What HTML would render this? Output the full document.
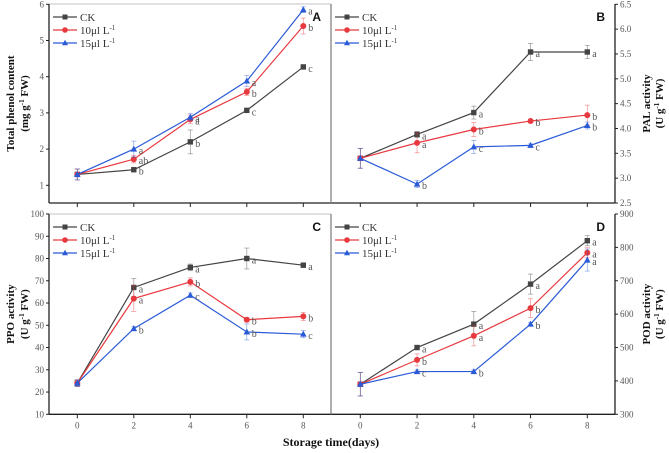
<!DOCTYPE html>
<html><head><meta charset="utf-8"><style>
body{margin:0;background:#fff}
svg{display:block;font-family:"Liberation Serif",serif}
</style></head><body>
<svg id="c" width="669" height="453" viewBox="0 0 669 453" xmlns="http://www.w3.org/2000/svg"></svg>
<script>
const days=[0,2,4,6,8];
const seriesNames=["CK","10μl L","15μl L"];
const aCK=[1.3,1.43,2.2,3.07,4.27], a10=[1.3,1.72,2.82,3.58,5.4], a15=[1.3,2.0,2.88,3.88,5.85];
const aErrCK=[0.15,0.05,0.33,0.05,0.05], aErr10=[0.15,0.1,0.12,0.1,0.22], aErr15=[0.15,0.22,0.1,0.15,0.08];
const aLetCK=["","b","b","c","c"], aLet10=["","ab","a","b","b"], aLet15=["","a","a","a","a"];
const bCK=[3.4,3.88,4.32,5.54,5.54], b10=[3.4,3.71,3.98,4.15,4.27], b15=[3.4,2.88,3.63,3.66,4.06];
const bErrCK=[0.2,0.06,0.13,0.17,0.13], bErr10=[0.2,0.2,0.14,0.03,0.2], bErr15=[0.2,0.07,0.13,0.03,0.07];
const bLetCK=["","a","a","a","a"], bLet10=["","a","b","b","b"], bLet15=["","b","c","c","b"];
const cCK=[24,67,76,80,77], c10=[24,62,69.5,52.5,54], c15=[24,48.5,63.5,47,46];
const cErrCK=[1.5,4,1.5,4.7,1], cErr10=[1.5,5.8,1.8,1,1.8], cErr15=[1.5,1,1,3.6,1.6];
const cLetCK=["","a","a","a","a"], cLet10=["","a","b","b","b"], cLet15=["","b","c","b","c"];
const dCK=[390,500,570,690,820], d10=[390,463,535,618,784], d15=[390,428,428,570,762];
const dErrCK=[35,5,38,30,15], dErr10=[35,18,30,28,15], dErr15=[35,5,5,5,33];
const dLetCK=["","a","a","a","a"], dLet10=["","b","a","b","a"], dLet15=["","c","b","b","a"];
const aTicks=[1,2,3,4,5,6], bTicks=["2.5","3.0","3.5","4.0","4.5","5.0","5.5","6.0","6.5"];
const cTicks=[10,20,30,40,50,60,70,80,90,100], dTicks=[300,400,500,600,700,800,900];
const colors=["#444","#e8393f","#2a5bd7"];
const NS="http://www.w3.org/2000/svg";
const svg=document.getElementById("c");
function mk(t,a,p){const e=document.createElementNS(NS,t);for(const k in a)e.setAttribute(k,a[k]);(p||svg).appendChild(e);return e;}
function line(x1,y1,x2,y2,s,w,p){return mk("line",{x1,y1,x2,y2,stroke:s,"stroke-width":w||1},p);}
function txt(x,y,s,a,p){const e=mk("text",Object.assign({x,y},a),p);e.textContent=s;return e;}

const panels=[
 {id:"A",x0:77.3,x1:303.3,top:4,bot:203,ticks:aTicks,right:false,L:49,R:331,ser:[aCK,a10,a15],err:[aErrCK,aErr10,aErr15],let:[aLetCK,aLet10,aLet15],t1:"Total phenol content",t2:"(mg g",u:" FW)",xl:false,tv0:1,tvy0:185.3,tv1:6,tvy1:4.3},
 {id:"B",x0:360.3,x1:587.3,top:4,bot:203,ticks:bTicks,right:true,L:331,R:615,ser:[bCK,b10,b15],err:[bErrCK,bErr10,bErr15],let:[bLetCK,bLet10,bLet15],t1:"PAL activity",t2:"(U g",u:" FW)",xl:false,tv0:2.5,tvy0:203,tv1:6.5,tvy1:4.3},
 {id:"C",x0:77.3,x1:303.3,top:214,bot:414.3,ticks:cTicks,right:false,L:49,R:331,ser:[cCK,c10,c15],err:[cErrCK,cErr10,cErr15],let:[cLetCK,cLet10,cLet15],t1:"PPO activity",t2:"(U g",u:" FW)",xl:true,tv0:10,tvy0:414.3,tv1:100,tvy1:214},
 {id:"D",x0:360.3,x1:587.3,top:214,bot:414.3,ticks:dTicks,right:true,L:331,R:615,ser:[dCK,d10,d15],err:[dErrCK,dErr10,dErr15],let:[dLetCK,dLet10,dLet15],t1:"POD activity",t2:"(U g",u:" FW)",xl:true,tv0:300,tvy0:414.3,tv1:900,tvy1:214}
];
panels.forEach(P=>{
 const g=mk("g",{});
 
 
 const X=d=>P.x0+(P.x1-P.x0)*d/8;
 const Y=v=>P.tvy0+(P.tvy1-P.tvy0)*(v-P.tv0)/(P.tv1-P.tv0);
 const ax=P.right?P.R:P.L;
 line(ax,P.top,ax,P.bot,"#222",1.3,g);
 line(P.L,P.bot,P.R,P.bot,"#222",1.3,g);
 line(P.right?P.L:P.R,P.top,P.right?P.L:P.R,P.bot,"#888",1.2,g);
 if(!P.right) line(P.L,P.top,P.R,P.top,"#888",0.6,g);
 P.ticks.forEach(t=>{const y=Y(+t);
  line(ax,y,ax+(P.right?3:-3),y,"#222",1,g);
  txt(P.right?ax+5:ax-5,y+3,String(t),{"font-size":"9","fill":"#555","text-anchor":P.right?"start":"end"},g);});
 days.forEach(d=>{line(X(d),P.bot,X(d),P.bot+4,"#222",1,g);
  if(P.xl) txt(X(d),P.bot+14,String(d),{"font-size":"9","fill":"#555","text-anchor":"middle"},g);});
 P.ser.forEach((s,i)=>{
  const c=colors[i];
  const eg=mk("g",{},g);
  
  
  s.forEach((v,j)=>{const e=P.err[i][j],x=X(days[j]);
   line(x,Y(v-e),x,Y(v+e),c,0.7,eg).setAttribute("opacity","0.55");
   line(x-2.5,Y(v-e),x+2.5,Y(v-e),c,0.7,eg).setAttribute("opacity","0.55");
   line(x-2.5,Y(v+e),x+2.5,Y(v+e),c,0.7,eg).setAttribute("opacity","0.55");});
  mk("polyline",{points:s.map((v,j)=>X(days[j])+","+Y(v)).join(" "),fill:"none",stroke:c,"stroke-width":1.2},eg);
  s.forEach((v,j)=>{const x=X(days[j]),y=Y(v);
   if(i==0) mk("rect",{x:x-2.7,y:y-2.7,width:5.4,height:5.4,fill:c},eg);
   else if(i==1) mk("circle",{cx:x,cy:y,r:3,fill:c},eg);
   else mk("polygon",{points:`${x},${y-3.5} ${x-3.3},${y+2.5} ${x+3.3},${y+2.5}`,fill:c},eg);
   const l=P.let[i][j]; if(l) txt(x+5,y+5,l,{"font-size":"10","fill":"#555"},eg);});
 });
 const lx=P.L+4, ly=P.top+13;
 seriesNames.forEach((n,i)=>{const y=ly+13*i,c=colors[i];
  const lg=mk("g",{},g);
  
  
  line(lx,y,lx+24,y,c,1.2,lg);
  if(i==0) mk("rect",{x:lx+9.5,y:y-2.5,width:5,height:5,fill:c},lg);
  else if(i==1) mk("circle",{cx:lx+12,cy:y,r:2.8,fill:c},lg);
  else mk("polygon",{points:`${lx+12},${y-3.3} ${lx+9},${y+2.3} ${lx+15},${y+2.3}`,fill:c},lg);
  const t=txt(lx+27,y+4,n,{"font-size":"11","fill":"#333"},lg);
  if(i>0){const s=mk("tspan",{"font-size":"7",dy:"-4"},t);s.textContent="-1";}
 });
 txt(P.R-10,P.top+17,P.id,{"font-size":"12","font-weight":"bold","font-family":"Liberation Sans,sans-serif","text-anchor":"end","fill":"#111"},g);
 const cy=(P.top+P.bot)/2;
 const tx1=P.right?650:14, tx2=P.right?663:28;
 txt(tx1,cy,P.t1,{"font-size":"11","font-weight":"bold","text-anchor":"middle",transform:`rotate(-90 ${tx1} ${cy})`,fill:"#111"},g);
 const a2=txt(tx2,cy,P.t2,{"font-size":"11","font-weight":"bold","text-anchor":"middle",transform:`rotate(-90 ${tx2} ${cy})`,fill:"#111"},g);
 const sp=mk("tspan",{"font-size":"7",dy:"-4"},a2);sp.textContent="-1";
 const sp2=mk("tspan",{dy:"4"},a2);sp2.textContent=P.u;
});
const xt=txt(331,446,"Storage time(days)",{"font-size":"12","font-weight":"bold","text-anchor":"middle",fill:"#111"});


</script>
</body></html>
